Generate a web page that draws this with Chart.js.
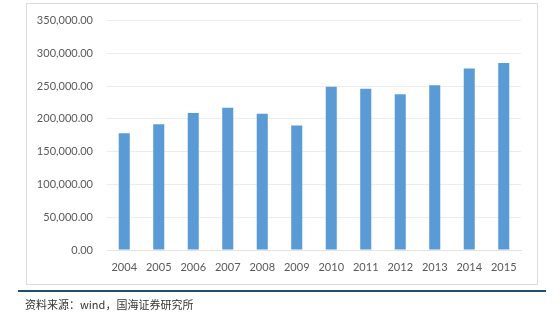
<!DOCTYPE html>
<html>
<head>
<meta charset="utf-8">
<script src="https://cdn.jsdelivr.net/npm/chart.js@4/dist/chart.umd.min.js"></script>
<style>
  html, body { margin: 0; padding: 0; background: #fff; }
  #wrap { position: relative; width: 560px; height: 327px; overflow: hidden; }
  #frame { position: absolute; left: 26px; top: 3px; width: 510px; height: 280px; border: 1px solid #dcdcdc; }
  #chart { position: absolute; left: 0; top: 0; }
  #rule { position: absolute; left: 18px; top: 290px; width: 528px; height: 2px; background: #1f4f6c; }
  #source { position: absolute; left: 25px; top: 296px; font: 11px "Noto Sans CJK SC", sans-serif; color: #333; white-space: nowrap; }
</style>
</head>
<body>
<div id="wrap">
  <div id="frame"></div>
  <canvas id="chart" width="560" height="327"></canvas>
  <div id="rule"></div>
  <div id="source">资料来源：wind，国海证券研究所</div>
</div>
<script>
const years = ['2004', '2005', '2006', '2007', '2008', '2009', '2010', '2011', '2012', '2013', '2014', '2015'];
const values = [178000, 192000, 209000, 217000, 208000, 190000, 249000, 246000, 237500, 251500, 277000, 285500];
const yTicks = [0, 50000, 100000, 150000, 200000, 250000, 300000, 350000];

const fmt = (v) => v.toLocaleString('en-US', { minimumFractionDigits: 2, maximumFractionDigits: 2 });

const ctx = document.getElementById('chart');
new Chart(ctx, {
  type: 'bar',
  data: {
    labels: years,
    datasets: [{
      data: values,
      backgroundColor: '#5b9bd5',
      borderWidth: 0,
      barPercentage: 0.5,
      categoryPercentage: 0.64
    }]
  },
  options: {
    responsive: false,
    animation: false,
    plugins: {
      legend: { display: false },
      tooltip: { enabled: false }
    },
    layout: {
      padding: { left: 20, right: 39, top: 19, bottom: 47 }
    },
    scales: {
      x: {
        grid: { display: false, drawTicks: false },
        border: { display: true, color: '#e3e3e3' },
        ticks: {
          color: '#595959',
          font: { family: 'Lato', size: 11 },
          padding: 11,
          maxRotation: 0
        },
        afterFit: (s) => { s.height = 30; }
      },
      y: {
        min: 0,
        max: 350000,
        afterBuildTicks: (s) => { s.ticks = yTicks.map(v => ({ value: v })); },
        grid: { color: '#ececec', drawTicks: false },
        border: { display: false },
        ticks: {
          color: '#595959',
          font: { family: 'Lato', size: 11 },
          padding: 14,
          callback: (v) => fmt(v)
        },
        afterFit: (s) => { s.width = 87; }
      }
    }
  }
});
</script>
</body>
</html>
